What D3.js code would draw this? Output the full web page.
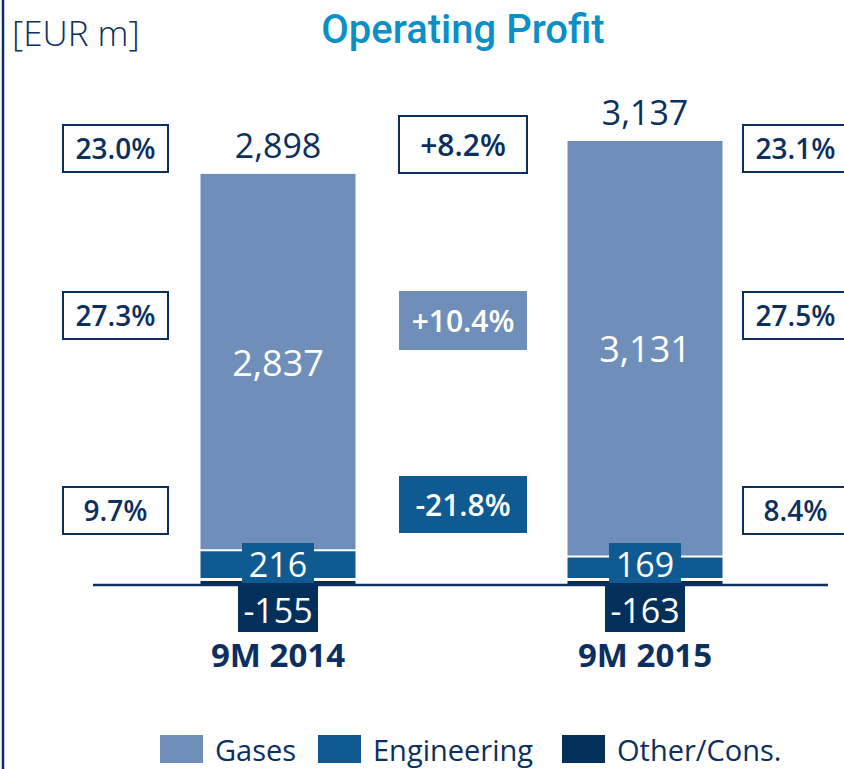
<!DOCTYPE html>
<html>
<head>
<meta charset="utf-8">
<script src="https://cdn.jsdelivr.net/npm/d3@7"></script>
<style>
  body { margin: 0; background: white; }
  svg { display: block; font-family: "Open Sans", sans-serif; }
</style>
</head>
<body>
<div id="chart"></div>
<script>
// data
let periods = ["9M 2014", "9M 2015"];
let gases = [2837, 3131];
let engineering = [216, 169];
let otherCons = [-155, -163];
let totals = [2898, 3137];
let leftPct = ["23.0%", "27.3%", "9.7%"];
let rightPct = ["23.1%", "27.5%", "8.4%"];
let changePct = ["+8.2%", "+10.4%", "-21.8%"];
let legendNames = ["Gases", "Engineering", "Other/Cons."];

let navy = "#0b2f5e";
let colors = { "Gases": "#6f8fba", "Engineering": "#0e5a91", "Other/Cons.": "#02305b" };

let width = 844, height = 769;
let svg = d3.select("#chart").append("svg")
    .attr("width", width)
    .attr("height", height);

// left frame line
svg.append("line")
    .attr("x1", 3).attr("x2", 3).attr("y1", 0).attr("y2", height)
    .attr("stroke", navy).attr("stroke-width", 2.5);

svg.append("text")
    .attr("x", 12).attr("y", 46)
    .attr("fill", navy).attr("font-size", 35).attr("font-weight", 300)
    .text("[EUR m]");

svg.append("text")
    .attr("x", 463).attr("y", 43)
    .attr("text-anchor", "middle")
    .attr("fill", "#0b8fc7").attr("font-size", 40).attr("font-weight", 500)
    .attr("font-family", "Roboto")
    .text("Operating Profit");

let x = d3.scalePoint().domain(periods).range([278, 645]);
let barW = 155;
let y = d3.scaleLinear().domain([0, 3300]).range([580, 141]);

let rows = periods.map(function(p, i) {
    return { period: p, gases: gases[i], engineering: engineering[i], other: otherCons[i], total: totals[i] };
});

let stack = d3.stack().keys(["engineering", "gases"])(rows);

svg.append("g").selectAll("g")
    .data(stack)
    .enter().append("g")
        .attr("fill", function(d) { return d.key == "gases" ? colors["Gases"] : colors["Engineering"]; })
    .selectAll("rect")
    .data(function(d) { return d; })
    .enter().append("rect")
        .attr("x", function(d) { return x(d.data.period) - barW / 2; })
        .attr("y", function(d) { return y(d[1]); })
        .attr("width", barW)
        .attr("height", function(d) { return y(d[0]) - y(d[1]) - 2; });

// thin other/cons strip under the bar
svg.append("g").selectAll("rect")
    .data(rows)
    .enter().append("rect")
        .attr("x", function(d) { return x(d.period) - barW / 2; })
        .attr("y", y(0) + 1)
        .attr("width", barW)
        .attr("height", 3)
        .attr("fill", colors["Other/Cons."]);

// baseline
svg.append("line")
    .attr("x1", 93).attr("x2", 828)
    .attr("y1", 585).attr("y2", 585)
    .attr("stroke", navy).attr("stroke-width", 2.5);

let fmt = d3.formatLocale({ decimal: ".", thousands: ",", grouping: [3], currency: ["", ""], minus: "-" }).format(",");

// totals on top
svg.append("g").selectAll("text")
    .data(rows)
    .enter().append("text")
        .attr("x", function(d) { return x(d.period); })
        .attr("y", function(d) { return y(d.gases + d.engineering) - 16; })
        .attr("text-anchor", "middle")
        .attr("fill", navy).attr("font-size", 34).attr("font-weight", 400)
        .text(function(d) { return fmt(d.total); });

// gases label inside
svg.append("g").selectAll("text")
    .data(rows)
    .enter().append("text")
        .attr("x", function(d) { return x(d.period); })
        .attr("y", function(d) { return (y(d.engineering) + y(d.engineering + d.gases)) / 2 + 13; })
        .attr("text-anchor", "middle")
        .attr("fill", "white").attr("font-size", 36).attr("font-weight", 400)
        .text(function(d) { return fmt(d.gases); });

// engineering label boxes
let eng = svg.append("g").selectAll("g")
    .data(rows)
    .enter().append("g")
        .attr("transform", function(d) { return "translate(" + x(d.period) + "," + y(0) + ")"; });
eng.append("rect")
    .attr("x", -36).attr("y", -37).attr("width", 72).attr("height", 40)
    .attr("fill", colors["Engineering"]);
eng.append("text")
    .attr("y", -3).attr("text-anchor", "middle")
    .attr("fill", "white").attr("font-size", 34).attr("font-weight", 400)
    .text(function(d) { return fmt(d.engineering); });

// other/cons label boxes below the axis
let oth = svg.append("g").selectAll("g")
    .data(rows)
    .enter().append("g")
        .attr("transform", function(d) { return "translate(" + x(d.period) + ",586)"; });
oth.append("rect")
    .attr("x", -40).attr("y", 0).attr("width", 80).attr("height", 46)
    .attr("fill", colors["Other/Cons."]);
oth.append("text")
    .attr("y", 37).attr("text-anchor", "middle")
    .attr("fill", "white").attr("font-size", 34).attr("font-weight", 400)
    .text(function(d) { return fmt(d.other); });

// category labels
svg.append("g").selectAll("text")
    .data(periods)
    .enter().append("text")
        .attr("x", function(d) { return x(d); })
        .attr("y", 667)
        .attr("text-anchor", "middle")
        .attr("fill", navy).attr("font-size", 33).attr("font-weight", 700)
        .text(function(d) { return d; });

// percentage boxes
let pctBox = function(labels, cx, w, h, cy, fs, styles) {
    let g = svg.append("g").selectAll("g")
        .data(labels)
        .enter().append("g")
            .attr("transform", function(d, i) { return "translate(" + cx + "," + cy[i] + ")"; });
    g.append("rect")
        .attr("x", -w / 2).attr("y", function(d, i) { return -h[i] / 2; })
        .attr("width", w).attr("height", function(d, i) { return h[i]; })
        .attr("fill", function(d, i) { return styles[i] == "outline" ? "white" : colors[styles[i]]; })
        .attr("stroke", function(d, i) { return styles[i] == "outline" ? navy : "none"; })
        .attr("stroke-width", 2);
    g.append("text")
        .attr("y", fs * 0.37).attr("text-anchor", "middle")
        .attr("fill", function(d, i) { return styles[i] == "outline" ? navy : "white"; })
        .attr("font-size", fs).attr("font-weight", 600)
        .text(function(d) { return d; });
};
let sideY = [148.5, 315.5, 510.5];
let midY = [144.5, 320.5, 504.5];
pctBox(leftPct, 115.5, 105, [47, 47, 47], sideY, 28, ["outline", "outline", "outline"]);
pctBox(rightPct, 795.5, 105, [47, 47, 47], sideY, 28, ["outline", "outline", "outline"]);
pctBox(changePct, 463, 128, [57, 59, 57], midY, 30, ["outline", "Gases", "Engineering"]);

// legend
let legX = [160, 318, 562];
let leg = svg.append("g").selectAll("g")
    .data(legendNames)
    .enter().append("g")
        .attr("transform", function(d, i) { return "translate(" + legX[i] + ",735)"; });
leg.append("rect")
    .attr("width", 43).attr("height", 28)
    .attr("fill", function(d) { return colors[d]; });
leg.append("text")
    .attr("x", 55).attr("y", 26)
    .attr("fill", navy).attr("font-size", 29).attr("font-weight", 400)
    .text(function(d) { return d; });
</script>
</body>
</html>
